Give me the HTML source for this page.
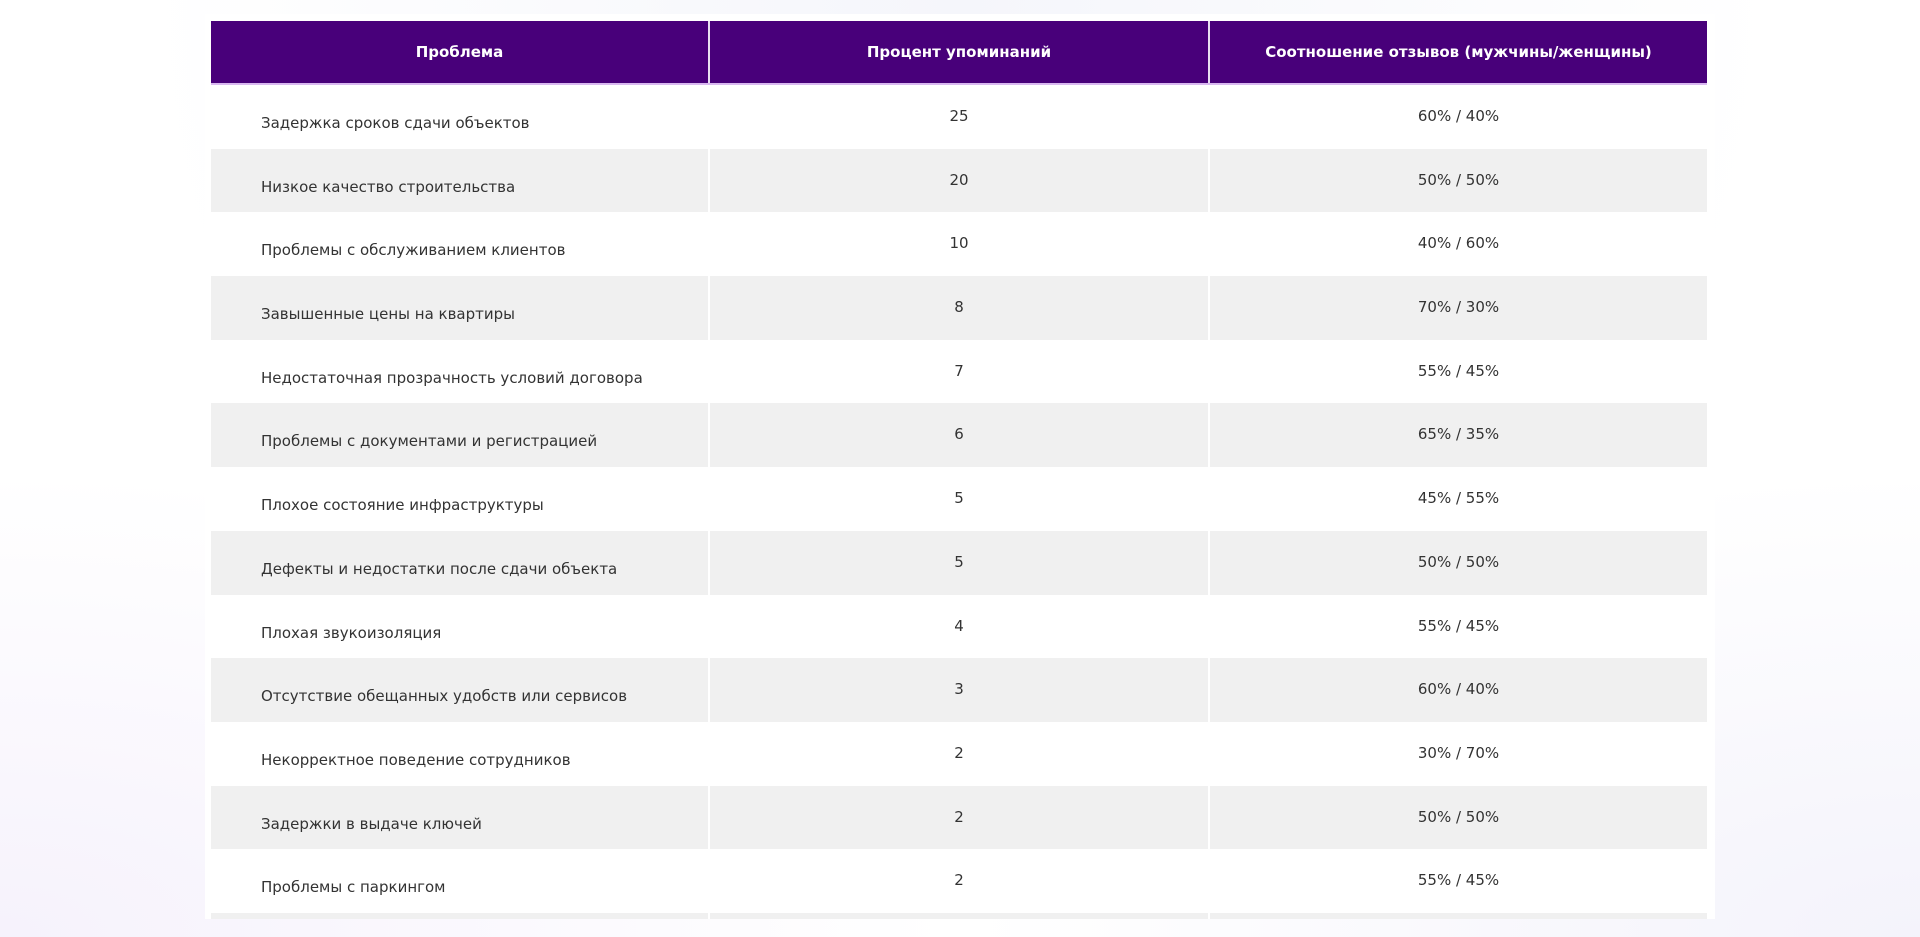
<!DOCTYPE html>
<html><head><meta charset="utf-8"><style>
html,body{margin:0;padding:0}
body{width:1920px;height:937px;overflow:hidden;position:relative;font-family:"DejaVu Sans","Liberation Sans",sans-serif;
background:radial-gradient(ellipse at 0% 100%,#f6f2fc 0%,rgba(255,255,255,0) 35%),radial-gradient(ellipse at 100% 100%,#f4f3fb 0%,rgba(255,255,255,0) 35%),radial-gradient(ellipse at 50% 0%,#f5f6fb 0%,#fff 60%);}
.card{position:absolute;left:205px;top:14px;width:1510px;height:905px;background:#fff}
table{position:absolute;left:211px;top:21px;border-collapse:collapse;width:1496px;table-layout:fixed}
th{background:#48007a;color:#fff;font-weight:bold;font-size:15px;height:62px;padding:0;text-align:center;border-right:2px solid #e8e0f0;border-bottom:2px solid #d9b8f0}
th:last-child{border-right:none}
td{height:63.7px;padding:0;font-size:15px;color:#333;text-align:center;vertical-align:top;border-right:2px solid #fff}
td:last-child{border-right:none}
td div{margin-top:22px}
td.a{text-align:left}
td.a div{margin-top:29px;padding-left:50px}
tr:nth-child(odd) td{background:#f0f0f0}
</style></head><body>
<div class="card"></div>
<table>
<colgroup><col style="width:498px"><col style="width:500px"><col style="width:498px"></colgroup>
<tr><th>Проблема</th><th>Процент упоминаний</th><th>Соотношение отзывов (мужчины/женщины)</th></tr>
<tr><td class="a"><div>Задержка сроков сдачи объектов</div></td><td><div>25</div></td><td><div>60% / 40%</div></td></tr>
<tr><td class="a"><div>Низкое качество строительства</div></td><td><div>20</div></td><td><div>50% / 50%</div></td></tr>
<tr><td class="a"><div>Проблемы с обслуживанием клиентов</div></td><td><div>10</div></td><td><div>40% / 60%</div></td></tr>
<tr><td class="a"><div>Завышенные цены на квартиры</div></td><td><div>8</div></td><td><div>70% / 30%</div></td></tr>
<tr><td class="a"><div>Недостаточная прозрачность условий договора</div></td><td><div>7</div></td><td><div>55% / 45%</div></td></tr>
<tr><td class="a"><div>Проблемы с документами и регистрацией</div></td><td><div>6</div></td><td><div>65% / 35%</div></td></tr>
<tr><td class="a"><div>Плохое состояние инфраструктуры</div></td><td><div>5</div></td><td><div>45% / 55%</div></td></tr>
<tr><td class="a"><div>Дефекты и недостатки после сдачи объекта</div></td><td><div>5</div></td><td><div>50% / 50%</div></td></tr>
<tr><td class="a"><div>Плохая звукоизоляция</div></td><td><div>4</div></td><td><div>55% / 45%</div></td></tr>
<tr><td class="a"><div>Отсутствие обещанных удобств или сервисов</div></td><td><div>3</div></td><td><div>60% / 40%</div></td></tr>
<tr><td class="a"><div>Некорректное поведение сотрудников</div></td><td><div>2</div></td><td><div>30% / 70%</div></td></tr>
<tr><td class="a"><div>Задержки в выдаче ключей</div></td><td><div>2</div></td><td><div>50% / 50%</div></td></tr>
<tr><td class="a"><div>Проблемы с паркингом</div></td><td><div>2</div></td><td><div>55% / 45%</div></td></tr>
<tr><td style="height:6px"></td><td style="height:6px"></td><td style="height:6px"></td></tr>
</table>
</body></html>
